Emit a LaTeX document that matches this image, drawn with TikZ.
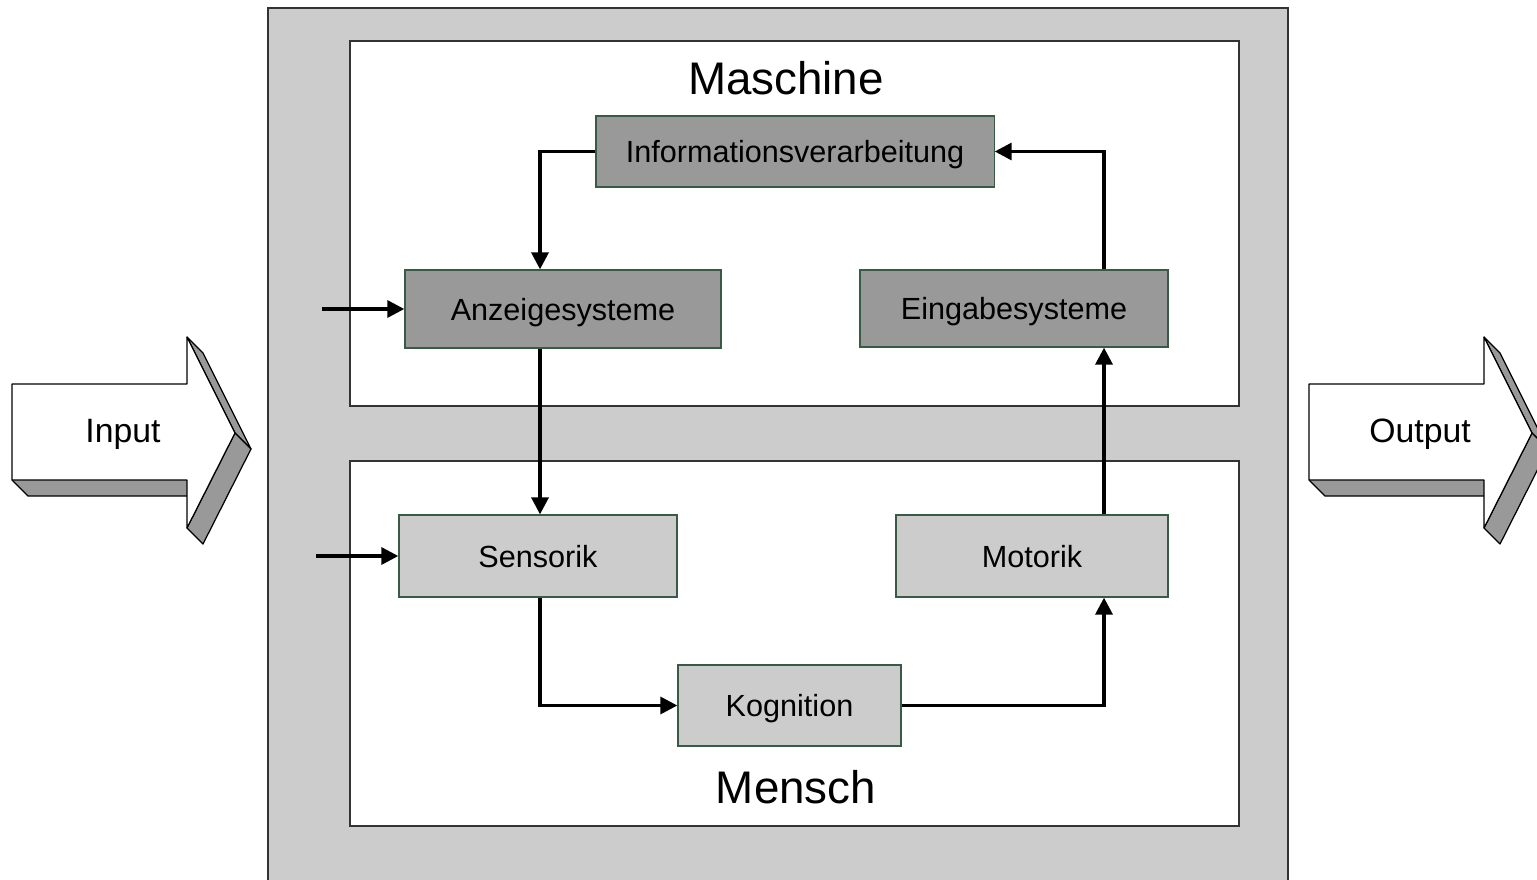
\documentclass[tikz,border=0pt]{standalone}
\usepackage{fontspec}
\setmainfont{Liberation Sans}
\usetikzlibrary{arrows.meta}
\definecolor{darkbox}{HTML}{999999}
\definecolor{lightbox}{HTML}{CCCCCC}
\definecolor{boxline}{HTML}{3A5A48}
\tikzset{
  frame/.style={draw=black!80, line width=0.35pt},
  stagebox/.style={draw=boxline, line width=0.35pt, inner sep=0pt, text depth=0pt, font=\fontsize{8.7}{10}\selectfont},
  machinebox/.style={stagebox, fill=darkbox},
  humanbox/.style={stagebox, fill=lightbox},
  flow/.style={line width=0.95pt, -{Triangle[length=4.8pt,width=4.8pt]}},
  solid3d/.style={draw=black, line width=0.35pt, line join=round},
  title/.style={font=\fontsize{13}{15}\selectfont, inner sep=0pt},
  bigtext/.style={font=\fontsize{9.6}{11}\selectfont, inner sep=0pt, text depth=0pt}
}
\begin{document}
\begin{tikzpicture}[x=0.01cm, y=-0.01cm]
\useasboundingbox (0,0) rectangle (1537,879);

% outer frame and the two subsystems
\draw[frame, fill=lightbox] (268,8) rectangle (1288,900);
\draw[frame, fill=white] (350,41) rectangle (1239,406);
\draw[frame, fill=white] (350,461) rectangle (1239,826);

\node[title] (maschine) at (786,78) {Maschine};
\node[title] (mensch) at (796,787) {Mensch};

% stages
\node[machinebox, minimum width=3.98cm, minimum height=0.71cm] (info) at (795,151.5) {Informationsverarbeitung};
\node[machinebox, minimum width=3.16cm, minimum height=0.78cm] (anz) at (563,309) {Anzeigesysteme};
\node[machinebox, minimum width=3.08cm, minimum height=0.77cm] (ein) at (1014,308.5) {Eingabesysteme};
\node[humanbox, minimum width=2.78cm, minimum height=0.82cm] (sens) at (538,556) {Sensorik};
\node[humanbox, minimum width=2.72cm, minimum height=0.82cm] (mot) at (1032,556) {Motorik};
\node[humanbox, minimum width=2.23cm, minimum height=0.81cm] (kog) at (789.5,705.5) {Kognition};

% connectors
\coordinate (inA) at (322,309);
\coordinate (inS) at (316,556);
\draw[flow] (info.west) -| (anz.north -| 540,0);
\draw[flow] (anz.south -| 540,0) -- (sens.north -| 540,0);
\draw[flow] (sens.south -| 540,0) |- (kog.west);
\draw[flow] (kog.east) -| (mot.south -| 1104,0);
\draw[flow] (mot.north -| 1104,0) -- (ein.south -| 1104,0);
\draw[flow] (ein.north -| 1104,0) |- (info.east);
\draw[flow] (inA) -- (anz.west);
\draw[flow] (inS) -- (sens.west);

% block arrows
\foreach \dx/\lbl/\nm in {0/Input/input, 1297/Output/output}{
  \begin{scope}[shift={(\dx,0)}]
    \fill[darkbox] (12,480) -- (28,496) -- (187,496) -- (187,480) -- cycle;
    \draw[solid3d] (12,480) -- (28,496) -- (187,496);
    \filldraw[solid3d, fill=darkbox] (187,337) -- (203,353) -- (251,449) -- (235,433) -- cycle;
    \filldraw[solid3d, fill=darkbox] (235,433) -- (251,449) -- (203,544) -- (187,528) -- cycle;
    \filldraw[solid3d, fill=white] (12,384) -- (187,384) -- (187,337) -- (235,433)
      -- (187,528) -- (187,480) -- (12,480) -- cycle;
    \node[bigtext] (\nm) at (123,431) {\lbl};
  \end{scope}
}
\end{tikzpicture}
\end{document}
